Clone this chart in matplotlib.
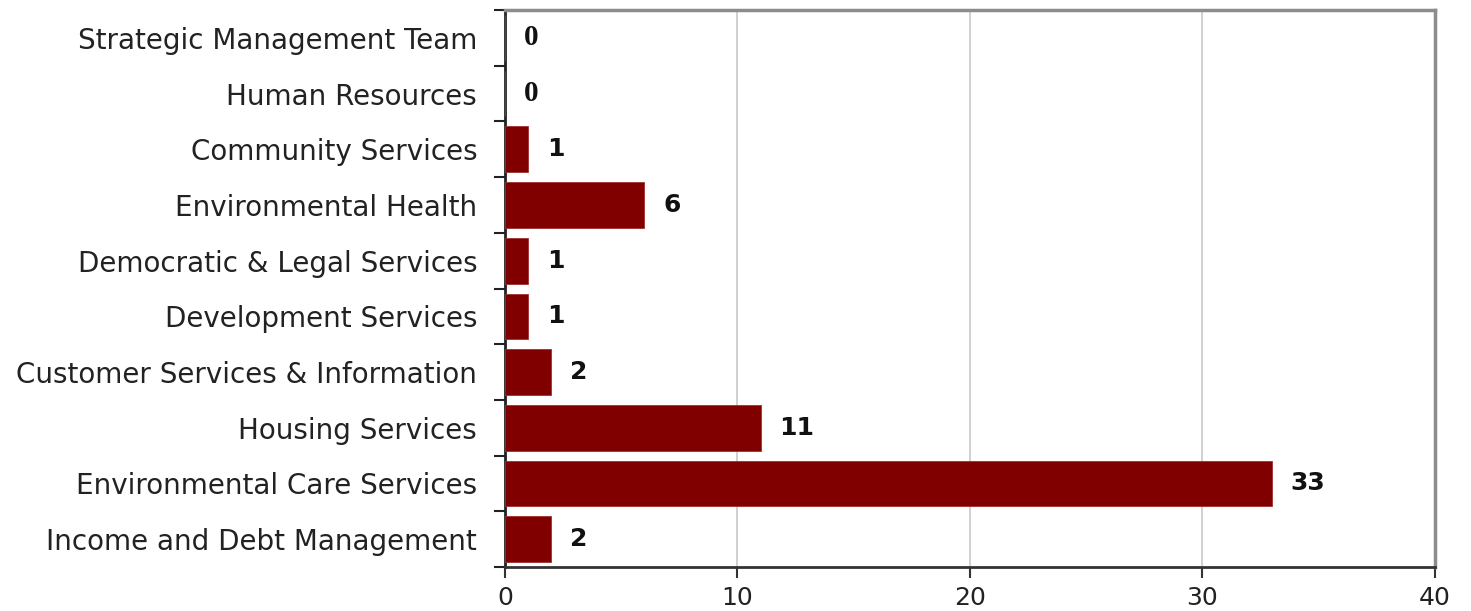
import matplotlib
matplotlib.use("Agg")
import matplotlib.pyplot as plt
from matplotlib.ticker import FixedLocator, NullFormatter

# Departments listed bottom to top, with their counts
departments = [
    "Income and Debt Management",
    "Environmental Care Services",
    "Housing Services",
    "Customer Services & Information",
    "Development Services",
    "Democratic & Legal Services",
    "Environmental Health",
    "Community Services",
    "Human Resources",
    "Strategic Management Team",
]
counts = [2, 33, 11, 2, 1, 1, 6, 1, 0, 0]
x_ticks = [0, 10, 20, 30, 40]

bar_color = "#800000"
sans = "DejaVu Sans"
serif = "Liberation Serif"

fig = plt.figure(figsize=(14.71, 6.11), dpi=100)
ax = fig.add_axes([0.3433, 0.072, 0.6322, 0.9116])

positions = list(range(len(departments)))
ax.barh(positions, counts, height=0.82, color=bar_color, edgecolor="#a03030",
        linewidth=0.6, zorder=3)

ax.set_xlim(0, 40)
ax.set_ylim(-0.5, len(departments) - 0.5)

ax.set_xticks(x_ticks)
ax.set_xticklabels([str(t) for t in x_ticks], fontfamily=sans, fontsize=18,
                   color="#222222")
ax.xaxis.grid(True, color="#c8c8c8", linewidth=1.2, zorder=0)
ax.tick_params(axis="x", direction="out", length=8, width=1.5, color="#333333",
               pad=6)

# Category labels centred on the bars, tick marks on the row boundaries
ax.set_yticks(positions)
ax.set_yticklabels(departments, fontfamily=sans, fontsize=20, color="#222222")
ax.tick_params(axis="y", which="major", length=0, pad=20)
ax.yaxis.set_minor_locator(FixedLocator([p - 0.5 for p in positions] + [len(departments) - 0.5]))
ax.yaxis.set_minor_formatter(NullFormatter())
ax.tick_params(axis="y", which="minor", direction="out", length=8, width=1.5,
               color="#222222")

for side in ("top", "right"):
    ax.spines[side].set_color("#8c8c8c")
    ax.spines[side].set_linewidth(2.5)
ax.spines["left"].set_color("#222222")
ax.spines["left"].set_linewidth(2)
ax.spines["bottom"].set_color("#333333")
ax.spines["bottom"].set_linewidth(2)

# Value labels next to each bar
for pos, val in zip(positions, counts):
    if val == 0:
        family, size = serif, 21
    else:
        family, size = sans, 18
    ax.text(val + 0.8, pos, str(val), va="center", ha="left",
            fontfamily=family, fontweight="bold", fontsize=size,
            color="#111111", zorder=4)

fig.savefig("out.png", dpi=100, facecolor="white")
